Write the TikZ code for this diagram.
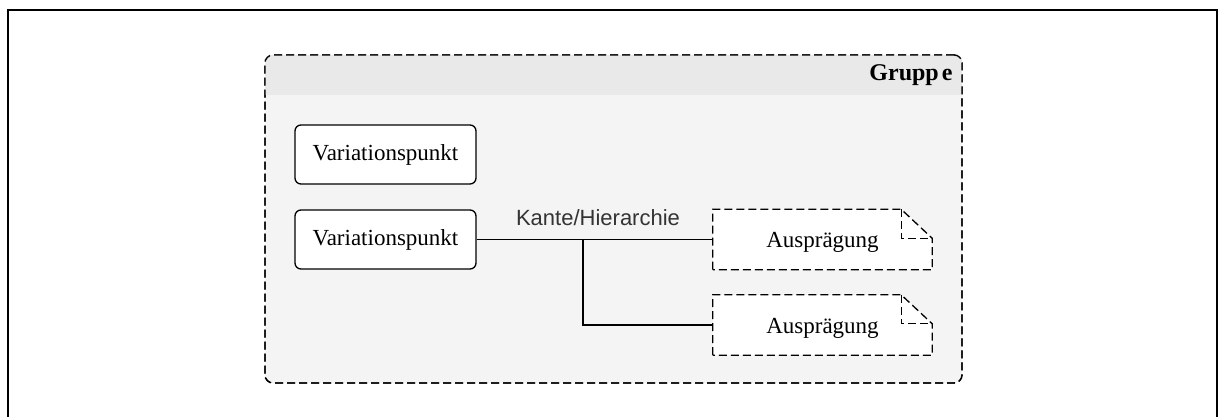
\documentclass[tikz,border=0pt]{standalone}
\usepackage{fontspec}
\setmainfont{Liberation Serif}
\newfontfamily\labelfont{Liberation Sans}
\definecolor{bodygray}{HTML}{F4F4F4}
\definecolor{headgray}{HTML}{E9E9E9}
\definecolor{labelgray}{HTML}{333333}
\begin{document}
\begin{tikzpicture}[x=1pt,y=-1pt,
  groupbox/.style={draw, dashed, dash pattern=on 8pt off 4pt, line width=1.3pt,
    rounded corners=8pt, minimum width=697pt, minimum height=328pt, inner sep=0pt},
  vpbox/.style={draw, fill=white, line width=1.3pt, rounded corners=6pt,
    minimum width=181pt, minimum height=59pt, inner sep=0pt,
    font=\fontsize{23}{26}\selectfont},
  notebox/.style={minimum width=219pt, minimum height=60pt, inner sep=0pt,
    font=\fontsize{23}{26}\selectfont},
  noteline/.style={draw, fill=white, dashed, dash pattern=on 8pt off 4pt, line width=1.3pt},
  edge/.style={draw, line width=1.3pt},
  edgelabel/.style={font=\labelfont\fontsize{22}{25}\selectfont, text=labelgray}]
\useasboundingbox (0,0) rectangle (1218,417);
\clip (0,0) rectangle (1218,417);
% outer frame, open at the bottom
\draw[line width=2pt] (7.5,430) -- (7.5,10.5) -- (1216.5,10.5) -- (1216.5,430);

% group container with header band
\node[groupbox, fill=bodygray] (grp) at (613.5,219) {};
\begin{scope}
  \clip[rounded corners=8pt] (grp.north west) rectangle (grp.south east);
  \fill[headgray] (265,55) rectangle (962,95);
\end{scope}
\node[groupbox] at (grp) {};
\node[anchor=east, font=\bfseries\fontsize{24}{27}\selectfont] (grptitle) at (956,75) {Grupp\kern3pt e};

% variation points
\node[vpbox] (v1) at (385.5,154.5) {Variationspunkt};
\node[vpbox] (v2) at (385.5,239.5) {Variationspunkt};

% variants as dog-eared notes
\node[notebox] (a1) at (822.5,239.5) {};
\node[notebox] (a2) at (822.5,325) {};
\foreach \n in {a1,a2} {
  \path[noteline] (\n.south west) -- (\n.north west) -- ([xshift=-31pt]\n.north east)
    -- ([yshift=-29pt]\n.north east) -- (\n.south east) -- cycle;
  \draw[noteline, fill=none] ([xshift=-31pt]\n.north east) |- ([yshift=-29pt]\n.north east);
  \node[notebox, yshift=-3pt] at (\n) {Ausprägung};
}

% hierarchy edge
\coordinate (br) at (583,239.5);
\draw[edge] (v2.east) -- (a1.west);
\draw[edge] (br) |- (a2.west);
\node[edgelabel] (elabel) at (598,218) {Kante/Hierarchie};
\end{tikzpicture}
\end{document}
